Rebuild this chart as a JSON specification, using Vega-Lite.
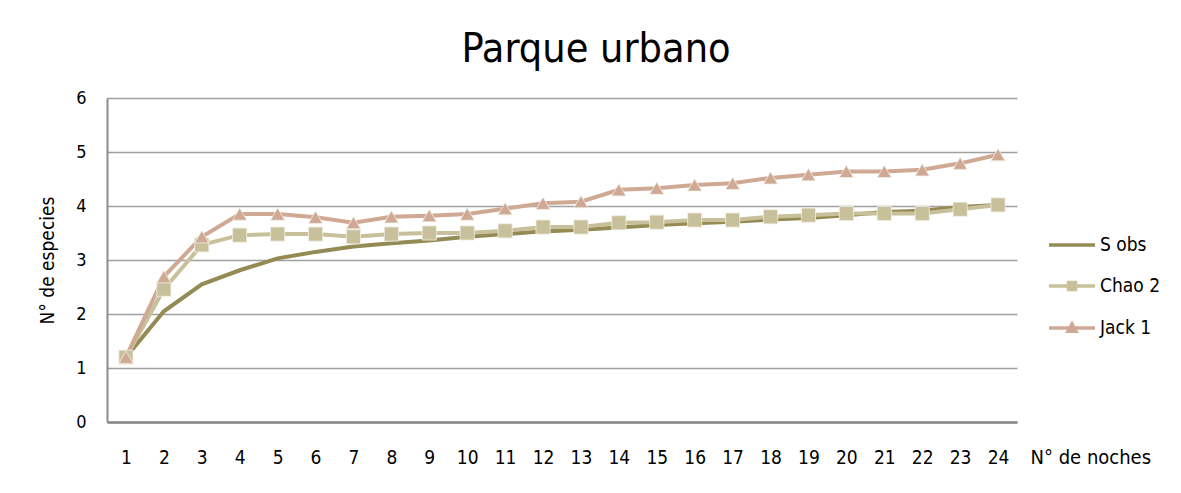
{
  "$schema": "https://vega.github.io/schema/vega-lite/v6.json",
  "width": 910,
  "height": 324,
  "autosize": "none",
  "padding": {"left": 107, "top": 98, "right": 164, "bottom": 71},
  "background": "white",
  "config": {
    "font": "'Liberation Sans Narrow', 'DejaVu Sans Condensed', sans-serif",
    "view": {"stroke": null}
  },
  "title": {
    "text": "Parque urbano",
    "fontSize": 41,
    "fontWeight": "normal",
    "color": "#000000",
    "anchor": "middle",
    "dx": 34,
    "offset": 18
  },
  "data": {
    "values": [
      {"n": 1, "S obs": 1.2, "Chao 2": 1.2, "Jack 1": 1.2},
      {"n": 2, "S obs": 2.05, "Chao 2": 2.46, "Jack 1": 2.69},
      {"n": 3, "S obs": 2.55, "Chao 2": 3.28, "Jack 1": 3.43},
      {"n": 4, "S obs": 2.81, "Chao 2": 3.46, "Jack 1": 3.85},
      {"n": 5, "S obs": 3.03, "Chao 2": 3.48, "Jack 1": 3.85},
      {"n": 6, "S obs": 3.15, "Chao 2": 3.48, "Jack 1": 3.79},
      {"n": 7, "S obs": 3.25, "Chao 2": 3.43, "Jack 1": 3.69},
      {"n": 8, "S obs": 3.31, "Chao 2": 3.48, "Jack 1": 3.8},
      {"n": 9, "S obs": 3.36, "Chao 2": 3.5, "Jack 1": 3.82},
      {"n": 10, "S obs": 3.43, "Chao 2": 3.5, "Jack 1": 3.85},
      {"n": 11, "S obs": 3.48, "Chao 2": 3.54, "Jack 1": 3.95},
      {"n": 12, "S obs": 3.53, "Chao 2": 3.61, "Jack 1": 4.05},
      {"n": 13, "S obs": 3.56, "Chao 2": 3.61, "Jack 1": 4.08},
      {"n": 14, "S obs": 3.6, "Chao 2": 3.69, "Jack 1": 4.3},
      {"n": 15, "S obs": 3.65, "Chao 2": 3.7, "Jack 1": 4.33},
      {"n": 16, "S obs": 3.68, "Chao 2": 3.74, "Jack 1": 4.39},
      {"n": 17, "S obs": 3.71, "Chao 2": 3.74, "Jack 1": 4.42},
      {"n": 18, "S obs": 3.75, "Chao 2": 3.8, "Jack 1": 4.52},
      {"n": 19, "S obs": 3.78, "Chao 2": 3.83, "Jack 1": 4.58},
      {"n": 20, "S obs": 3.83, "Chao 2": 3.86, "Jack 1": 4.64},
      {"n": 21, "S obs": 3.89, "Chao 2": 3.86, "Jack 1": 4.64},
      {"n": 22, "S obs": 3.91, "Chao 2": 3.86, "Jack 1": 4.67},
      {"n": 23, "S obs": 3.98, "Chao 2": 3.94, "Jack 1": 4.79},
      {"n": 24, "S obs": 4.02, "Chao 2": 4.02, "Jack 1": 4.95}
    ]
  },
  "transform": [
    {"fold": ["S obs", "Chao 2", "Jack 1"], "as": ["serie", "valor"]}
  ],
  "encoding": {
    "x": {
      "field": "n",
      "type": "ordinal",
      "scale": {"type": "point", "padding": 0.5},
      "axis": {
        "title": "N° de noches",
        "titleFontSize": 20,
        "titleFontWeight": "normal",
        "titleColor": "#000000",
        "titleX": 923,
        "titleY": 35,
        "titleAlign": "left",
        "titleBaseline": "middle",
        "labelAngle": 0,
        "labelFontSize": 19,
        "labelColor": "#000000",
        "labelPadding": 26,
        "ticks": false,
        "grid": false,
        "domainColor": "#868686",
        "domainWidth": 2.5
      }
    },
    "y": {
      "field": "valor",
      "type": "quantitative",
      "scale": {"domain": [0, 6]},
      "axis": {
        "values": [0, 1, 2, 3, 4, 5, 6],
        "title": "N° de especies",
        "titleFontSize": 19,
        "titleFontWeight": "normal",
        "titleColor": "#000000",
        "titleX": -60,
        "titleY": 162,
        "titleAngle": -90,
        "titleAlign": "center",
        "titleBaseline": "middle",
        "labelFontSize": 18,
        "labelColor": "#000000",
        "labelPadding": 21,
        "ticks": false,
        "grid": true,
        "gridColor": "#a0a0a0",
        "gridWidth": 1.5,
        "domainColor": "#8c8c8c",
        "domainWidth": 2
      }
    },
    "color": {
      "field": "serie",
      "type": "nominal",
      "sort": ["S obs", "Chao 2", "Jack 1"],
      "scale": {
        "domain": ["S obs", "Chao 2", "Jack 1"],
        "range": ["#948a54", "#c8c09a", "#cfa994"]
      }
    }
  },
  "layer": [
    {
      "mark": {"type": "line", "strokeWidth": 4},
      "encoding": {
        "color": {
          "field": "serie",
          "type": "nominal",
          "sort": ["S obs", "Chao 2", "Jack 1"],
          "scale": {
            "domain": ["S obs", "Chao 2", "Jack 1"],
            "range": ["#948a54", "#c8c09a", "#cfa994"]
          },
          "legend": {
            "title": null,
            "orient": "none",
            "legendX": 940,
            "legendY": 122,
            "symbolSize": 2116,
            "symbolStrokeWidth": 3.5,
            "symbolType": "M-1,0H1",
            "labelFontSize": 19,
            "labelColor": "#000000",
            "labelOffset": 3,
            "rowPadding": 6,
            "encode": {
              "symbols": {
                "update": {
                  "shape": {"signal": "datum.value === 'Chao 2' ? 'M-1,0H1M-0.15,-0.15H0.15V0.15H-0.15Z' : (datum.value === 'Jack 1' ? 'M-1,0H1M0,-0.17L0.17,0.14L-0.17,0.14Z' : 'M-1,0H1')"},
                  "fillOpacity": {"value": 1}
                }
              }
            }
          }
        }
      }
    },
    {
      "transform": [{"filter": "datum.serie !== 'S obs'"}],
      "mark": {"type": "point", "filled": true, "opacity": 1, "stroke": "#f2efe4", "strokeWidth": 0.8},
      "encoding": {
        "shape": {
          "field": "serie",
          "type": "nominal",
          "scale": {"domain": ["Chao 2", "Jack 1"], "range": ["square", "triangle-up"]},
          "legend": null
        },
        "size": {"value": 200}
      }
    }
  ]
}
